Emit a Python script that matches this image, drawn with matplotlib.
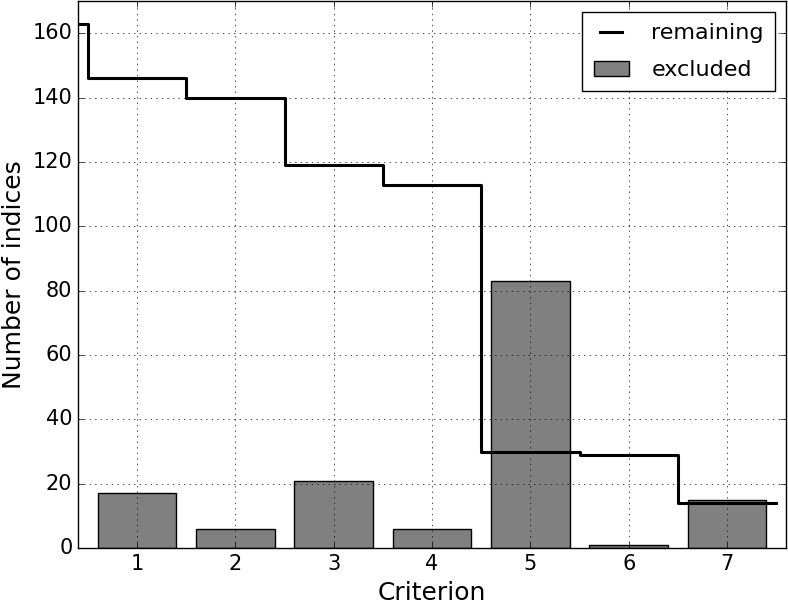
import numpy as np
import matplotlib
matplotlib.use('Agg')
import matplotlib.pyplot as plt

criteria = np.arange(1, 8)
excluded = [17, 6, 21, 6, 83, 1, 15]
remaining = [163, 146, 140, 119, 113, 30, 29, 14]

plt.style.use('classic')
fig = plt.figure(figsize=(7.88, 6.07), dpi=100)
ax = fig.add_axes([0.099, 0.097, 0.8985, 0.901])

# step line: remaining count after each criterion
xs = np.concatenate([[0], criteria - 0.5, [criteria[-1] + 0.5]])
ys = [remaining[0]] + remaining
ax.step(xs, ys, where='pre', color='k', lw=2.2, label='remaining')
ax.bar(criteria, excluded, width=0.8, align='center', color='0.5',
       edgecolor='k', label='excluded')

ax.set_xlim(0.4, 7.6)
ax.set_ylim(0, 170)
ax.set_xticks(criteria)
ax.tick_params(labelsize=15)
ax.grid(True)
ax.set_xlabel('Criterion', fontsize=18)
ax.set_ylabel('Number of indices', fontsize=18)
ax.legend(loc='upper right', fontsize=16, handlelength=1.6,
          handletextpad=1.0, labelspacing=0.75, borderpad=0.5)

fig.savefig('out.png', dpi=100)
